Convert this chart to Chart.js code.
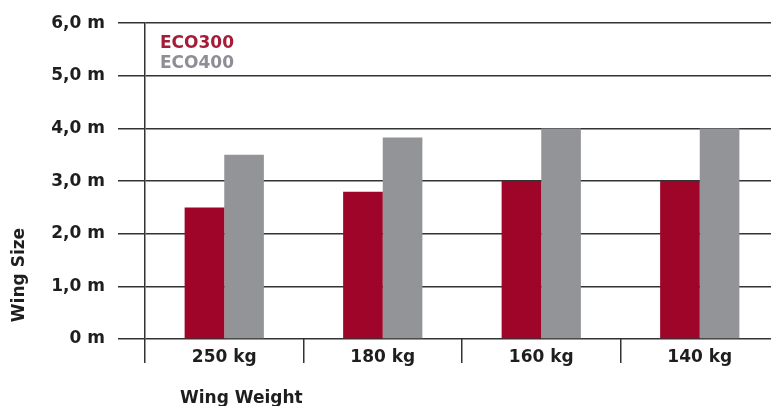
<!DOCTYPE html>
<html>
<head>
<meta charset="utf-8">
<script src="https://cdn.jsdelivr.net/npm/chart.js@4/dist/chart.umd.min.js"></script>
<style>
html,body{margin:0;padding:0;background:#fff;overflow:hidden;width:771px;height:406px;}
#wrap{width:779px;height:406px;}
</style>
</head>
<body>
<div id="wrap"><canvas id="c" width="779" height="406"></canvas></div>
<script>
const categories = ["250 kg", "180 kg", "160 kg", "140 kg"];
const eco300 = [2.5, 2.8, 3.0, 3.0];
const eco400 = [3.5, 3.83, 4.0, 4.0];
const yTickLabels = ["0 m", "1,0 m", "2,0 m", "3,0 m", "4,0 m", "5,0 m", "6,0 m"];
const seriesNames = ["ECO300", "ECO400"];
const xTitle = "Wing Weight";
const yTitle = "Wing Size";

const FONT = "'DejaVu Sans', Verdana, sans-serif";
const TEXT = "#1e1e1e";

const overlay = {
  id: 'overlay',
  afterDraw(chart) {
    const ctx = chart.ctx;
    const ca = chart.chartArea;
    ctx.save();
    ctx.font = "bold 17px " + FONT;
    ctx.textBaseline = 'alphabetic';
    const legendColors = ['#a51c38', '#8e8f96'];
    chart.data.datasets.forEach((ds, i) => {
      ctx.fillStyle = legendColors[i];
      ctx.textAlign = 'left';
      ctx.fillText(ds.label, ca.left + 15, ca.top + 25 + i * 20);
    });
    ctx.fillStyle = TEXT;
    ctx.textAlign = 'left';
    ctx.fillText(xTitle, ca.left + 35, 403);
    ctx.translate(24, 275);
    ctx.rotate(-Math.PI / 2);
    ctx.textAlign = 'center';
    ctx.fillText(yTitle, 0, 0);
    ctx.restore();
  }
};

new Chart(document.getElementById('c'), {
  type: 'bar',
  data: {
    labels: categories,
    datasets: [
      { label: seriesNames[0], data: eco300, backgroundColor: '#9e0529' },
      { label: seriesNames[1], data: eco400, backgroundColor: '#939498' }
    ]
  },
  options: {
    responsive: false,
    devicePixelRatio: 1,
    animation: false,
    layout: { padding: { top: 22, right: 0, left: 0, bottom: 0 } },
    datasets: { bar: { categoryPercentage: 0.5, barPercentage: 1.0 } },
    plugins: { legend: { display: false }, tooltip: { enabled: false } },
    scales: {
      x: {
        offset: true,
        grid: { offset: true, drawOnChartArea: false, drawTicks: true, tickLength: 24, color: '#333', lineWidth: 1.5 },
        border: { display: false },
        ticks: { color: TEXT, font: { family: FONT, size: 17, weight: 'bold' }, padding: -16, maxRotation: 0 },
        afterFit(s) { s.height = 67; }
      },
      y: {
        min: 0, max: 6,
        grid: { color: '#333', lineWidth: 1.5, tickLength: 27 },
        border: { display: true, color: '#333', width: 1.5 },
        ticks: {
          stepSize: 1, padding: 13, color: TEXT,
          font: { family: FONT, size: 17, weight: 'bold' },
          callback: (v) => yTickLabels[Math.round(v)]
        },
        afterFit(s) { s.width = 145; }
      }
    }
  },
  plugins: [overlay]
});
</script>
</body>
</html>
